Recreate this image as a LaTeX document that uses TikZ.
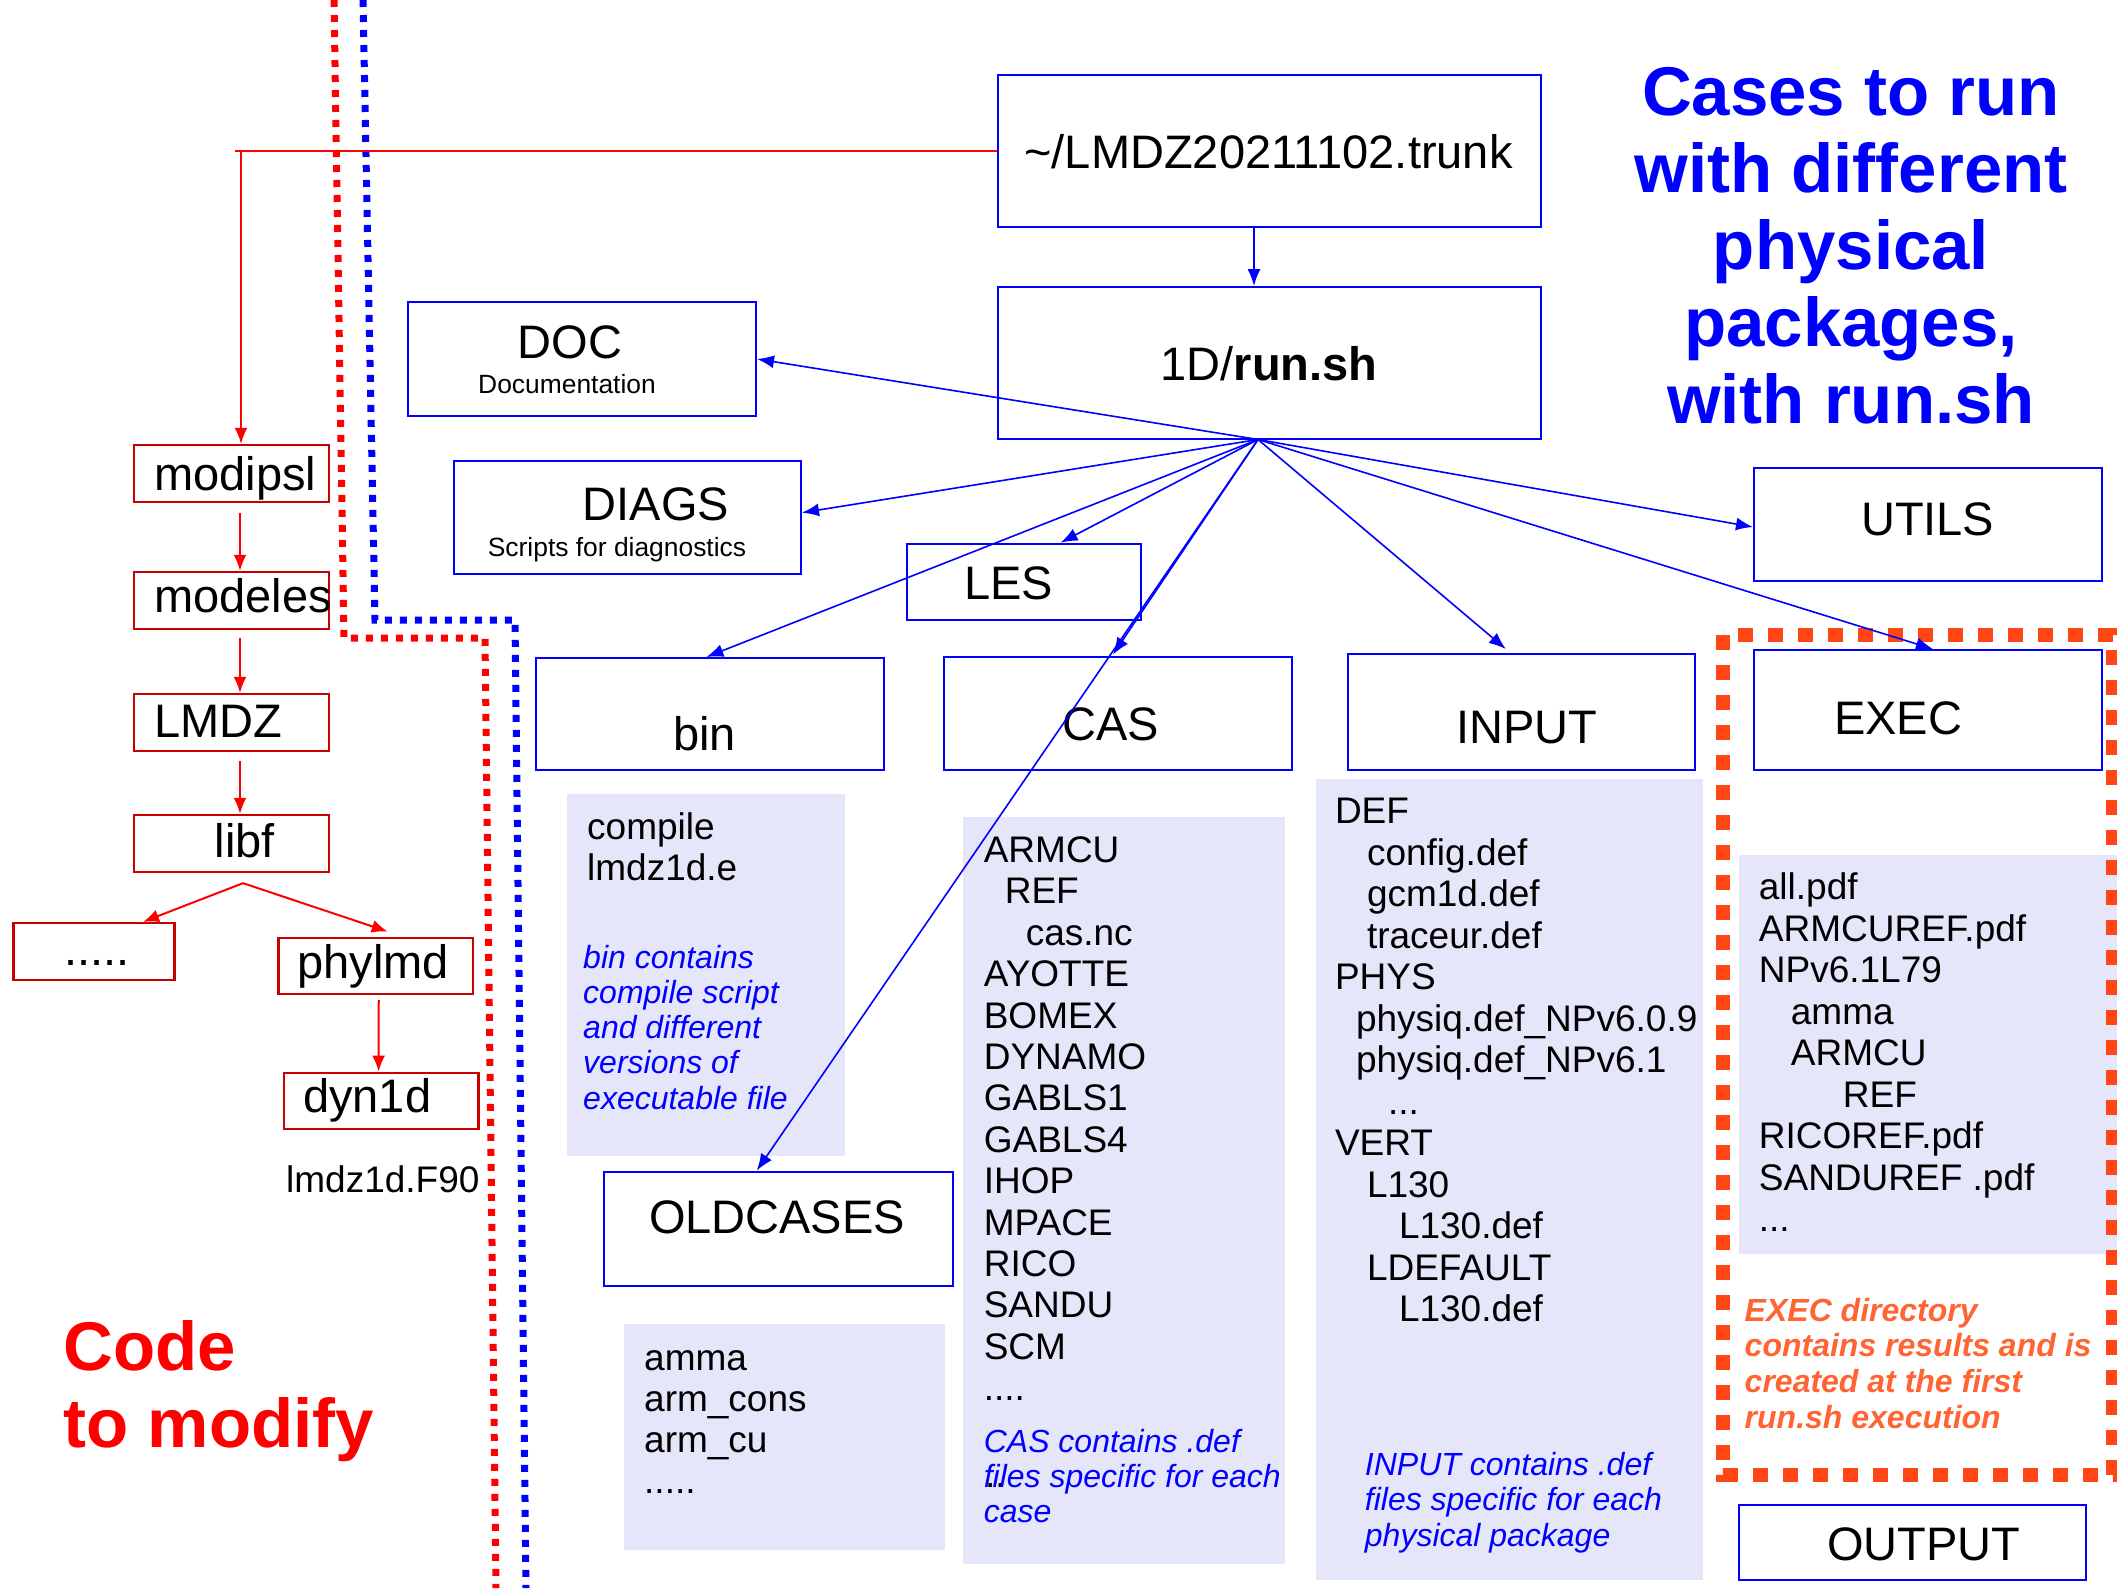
\documentclass[tikz,border=0pt]{standalone}
\usepackage{fontspec}
\setmainfont{Liberation Sans}
\usetikzlibrary{arrows.meta, calc}

\definecolor{lav}{RGB}{230,230,250}
\definecolor{boxred}{RGB}{200,0,0}
\definecolor{execred}{RGB}{255,70,20}
\definecolor{exectxt}{RGB}{255,100,50}

\begin{document}
\begin{tikzpicture}[
            x=1pt, y=-1pt,
            bluebox/.style={rectangle, draw=blue, line width=2pt, inner sep=0pt},
            redbox/.style={rectangle, draw=boxred, line width=2.3pt, inner sep=0pt},
            lbl/.style={inner sep=0pt, anchor=base, font=\fontsize{47}{56}\selectfont},
            item/.style={inner sep=0pt, anchor=base west, font=\fontsize{37}{41}\selectfont},
            note/.style={inner sep=0pt, anchor=base west, text=blue, font=\fontsize{32}{35}\selectfont\itshape},
            big/.style={inner sep=0pt, font=\fontsize{69}{77}\selectfont\bfseries},
            bline/.style={draw=blue, line width=1.6pt, -{Latex[length=17pt,width=13pt]}},
            rline/.style={draw=red, line width=2pt, -{Latex[length=16pt,width=13pt]}},
            sepline/.style={line width=7pt, dash pattern=on 7pt off 8pt}
        ]
        \useasboundingbox (0,0) rectangle (2117,1588);

        % --- Separators ---
        \draw[sepline, red] (334,0) -- (344,638) -- (485,638) -- (496,1588);
        \draw[sepline, blue] (363,0) -- (375,620) -- (515,620) -- (526,1588);

        % --- Content panels ---
        \fill[lav] (566.5,794.4) rectangle (845,1156);
        \fill[lav] (624,1323.7) rectangle (945,1550.4);
        \fill[lav] (963,817) rectangle (1285,1564);
        \fill[lav] (1315.6,779) rectangle (1703,1580);
        \fill[lav] (1739,855) rectangle (2117,1254);
        \draw[execred, line width=14pt, dash pattern=on 15pt off 15pt] (1723,635) rectangle (2113,1475);

        % --- Code tree (left) ---
        \node[redbox, minimum width=195pt, minimum height=57pt] (modipsl) at (231.5,473.5) {};
        \node[redbox, minimum width=195pt, minimum height=57pt] (modeles) at (231.5,600.5) {};
        \node[redbox, minimum width=195pt, minimum height=57pt] (lmdz) at (231.5,722.5) {};
        \node[redbox, minimum width=195pt, minimum height=57pt] (libf) at (231.5,843.5) {};
        \node[redbox, minimum width=161pt, minimum height=57pt] (other) at (94,951.5) {};
        \node[redbox, minimum width=194.5pt, minimum height=56.3pt] (phylmd) at (375.75,965.85) {};
        \node[redbox, minimum width=194.6pt, minimum height=56.2pt] (dynoned) at (381.3,1100.8) {};

        \node[lbl, anchor=base west] (modipsltxt) at (154,490) {modipsl};
        \node[lbl, anchor=base west] (modelestxt) at (154,612) {modeles};
        \node[lbl, anchor=base west] (lmdztxt) at (154,737) {LMDZ};
        \node[lbl] (libftxt) at (245,857) {libf};
        \node[lbl, anchor=base west] (othertxt) at (64,965.5) {.....};
        \node[lbl, anchor=base west] (phylmdtxt) at (297.4,978.4) {phylmd};
        \node[lbl, anchor=base west] (dynonedtxt) at (303,1112) {dyn1d};
        \node[item] (fortran) at (286,1192) {lmdz1d.F90};

        \foreach \t [count=\i from 0] in {Code, to modify}
            \node[big, anchor=base west, text=red] (code\i) at (63.5,1370+77*\i) {\t};

        % --- Directory boxes ---
        \node[bluebox, minimum width=543pt, minimum height=152pt] (trunk) at (1269.5,151) {};
        \node[bluebox, minimum width=543pt, minimum height=151.5pt] (runsh) at (1269.5,362.75) {};
        \node[bluebox, minimum width=348pt, minimum height=114pt] (doc) at (582,359) {};
        \node[bluebox, minimum width=347.4pt, minimum height=113.5pt] (diags) at (627.3,517.25) {};
        \node[bluebox, minimum width=234pt, minimum height=76pt] (les) at (1024,581.65) {};
        \node[bluebox, minimum width=348pt, minimum height=112pt] (bin) at (710,714) {};
        \node[bluebox, minimum width=348pt, minimum height=113pt] (cas) at (1118,713.5) {};
        \node[bluebox, minimum width=347.4pt, minimum height=116pt] (input) at (1521.3,712) {};
        \node[bluebox, minimum width=348.3pt, minimum height=120pt] (exec) at (1927.9,710) {};
        \node[bluebox, minimum width=348pt, minimum height=113pt] (utils) at (1928,524.5) {};
        \node[bluebox, minimum width=349.3pt, minimum height=114.4pt] (oldcases) at (778.35,1228.8) {};
        \node[bluebox, minimum width=347.6pt, minimum height=75pt] (output) at (1912.6,1542.5) {};

        \node[lbl] (trunktxt) at (1268.5,168) {\textasciitilde/LMDZ20211102.trunk};
        \node[lbl] (runshtxt) at (1269,380) {1D/\textbf{run.sh}};
        \node[lbl] (doctxt) at (570,358.5) {DOC};
        \node[lbl, font=\fontsize{26.4}{30}\selectfont] (docsub) at (567,393) {Documentation};
        \node[lbl] (diagstxt) at (656,520) {DIAGS};
        \node[lbl, font=\fontsize{26.4}{30}\selectfont] (diagssub) at (617,556) {Scripts for diagnostics};
        \node[lbl] (lestxt) at (1008.5,599) {LES};
        \node[lbl] (bintxt) at (704.7,750) {bin};
        \node[lbl] (castxt) at (1111,740) {CAS};
        \node[lbl] (inputtxt) at (1527,743) {INPUT};
        \node[lbl] (exectxt) at (1898,734) {EXEC};
        \node[lbl] (utilstxt) at (1927.7,535.5) {UTILS};
        \node[lbl] (oldcasestxt) at (777,1233.5) {OLDCASES};
        \node[lbl] (outputtxt) at (1924,1560.7) {OUTPUT};

        \foreach \t [count=\i from 0] in {Cases to run, with different, physical, {packages,}, with run.sh}
            \node[big, anchor=base, text=blue] (title\i) at (1851,115+77*\i) {\t};

        % --- Panel contents ---
        \foreach \t [count=\i from 0] in {compile, lmdz1d.e}
            \node[item] (binitem\i) at (587,839+41.5*\i) {\t};
        \foreach \t [count=\i from 0] in {bin contains, compile script, and different, versions of, executable file}
            \node[note] (binnote\i) at (583,968+35.25*\i) {\t};

        \foreach \t [count=\i from 0] in {amma, arm\_cons, arm\_cu, {.{}.{}.{}.{}.}}
            \node[item] (olditem\i) at (644,1370+41.2*\i) {\t};

        \foreach \t/\d [count=\i from 0] in {ARMCU/0, REF/21, cas.nc/42, AYOTTE/0, BOMEX/0, DYNAMO/0, GABLS1/0, GABLS4/0, IHOP/0, MPACE/0, RICO/0, SANDU/0, SCM/0, {.{}.{}.{}.}/0}
            \node[item] (casitem\i) at (983.6+\d,862.5+41.4*\i) {\t};
        \node[item] (casdots) at (985,1487) {..};
        \foreach \t [count=\i from 0] in {CAS contains .def, files specific for each, case}
            \node[note] (casnote\i) at (983.6,1452.5+35*\i) {\t};

        \foreach \t/\d [count=\i from 0] in {DEF/0, config.def/32, gcm1d.def/32, traceur.def/32, PHYS/0, physiq.def\_NPv6.0.9/21, physiq.def\_NPv6.1/21, {.{}.{}.}/53, VERT/0, L130/32, L130.def/64, LDEFAULT/32, L130.def/64}
            \node[item] (inputitem\i) at (1334.8+\d,823.8+41.5*\i) {\t};
        \foreach \t [count=\i from 0] in {INPUT contains .def, files specific for each, physical package}
            \node[note] (inputnote\i) at (1364.7,1475.6+35.2*\i) {\t};

        \foreach \t/\d [count=\i from 0] in {all.pdf/0, ARMCUREF.pdf/0, NPv6.1L79/0, amma/32, ARMCU/32, REF/84, RICOREF.pdf/0, {SANDUREF .pdf}/0, {.{}.{}.}/0}
            \node[item] (execitem\i) at (1758.7+\d,899.5+41.5*\i) {\t};
        \foreach \t [count=\i from 0] in {EXEC directory, contains results and is, created at the first, run.sh execution}
            \node[note, text=exectxt, font=\fontsize{32}{35}\selectfont\bfseries\itshape] (execnote\i) at (1744.5,1321+35.7*\i) {\t};

        % --- Red arrows ---
        \coordinate (corner) at (235,151);
        \coordinate (drop) at (241,151);
        \coordinate (fork) at ($(libf.south)+(11.5,10)$);
        \draw[red, line width=2pt] (trunk.west) -- (corner);
        \draw[rline] (drop) -- ([xshift=9.5pt]modipsl.north);
        \draw[rline] ([xshift=8.5pt,yshift=-10pt]modipsl.south) -- ([xshift=8.5pt]modeles.north);
        \draw[rline] ([xshift=8.5pt,yshift=-8pt]modeles.south) -- ([xshift=8.5pt]lmdz.north);
        \draw[rline] ([xshift=8.5pt,yshift=-9pt]lmdz.south) -- ([xshift=8.5pt]libf.north);
        \draw[rline] (fork) -- ([xshift=49pt]other.north);
        \draw[rline] (fork) -- ([xshift=12pt,yshift=5pt]phylmd.north);
        \draw[rline] ([xshift=3pt,yshift=-5pt]phylmd.south) -- ([xshift=-2.7pt]dynoned.north);

        % --- Blue arrows from run.sh ---
        \coordinate (hub) at ([xshift=-11.5pt]runsh.south);
        \draw[bline] ([xshift=-15.5pt]trunk.south) -- ([xshift=-15.5pt]runsh.north);
        \draw[bline] (hub) -- (doc.east);
        \draw[bline] (hub) -- ([yshift=4.6pt]diags.east);
        \draw[bline] (hub) -- ([xshift=36.6pt]les.north);
        \draw[bline] (hub) -- ([xshift=-3.6pt]bin.north);
        \draw[bline] (hub) -- ([xshift=-5pt,yshift=1.5pt]cas.north);
        \draw[bline] (hub) -- ([xshift=-21.6pt]oldcases.north);
        \draw[bline] (hub) -- ([xshift=-15.5pt,yshift=4pt]input.north);
        \draw[bline] (hub) -- ([xshift=5pt]exec.north);
        \draw[bline] (hub) -- ([yshift=-2.5pt]utils.west);

\end{tikzpicture}
\end{document}
